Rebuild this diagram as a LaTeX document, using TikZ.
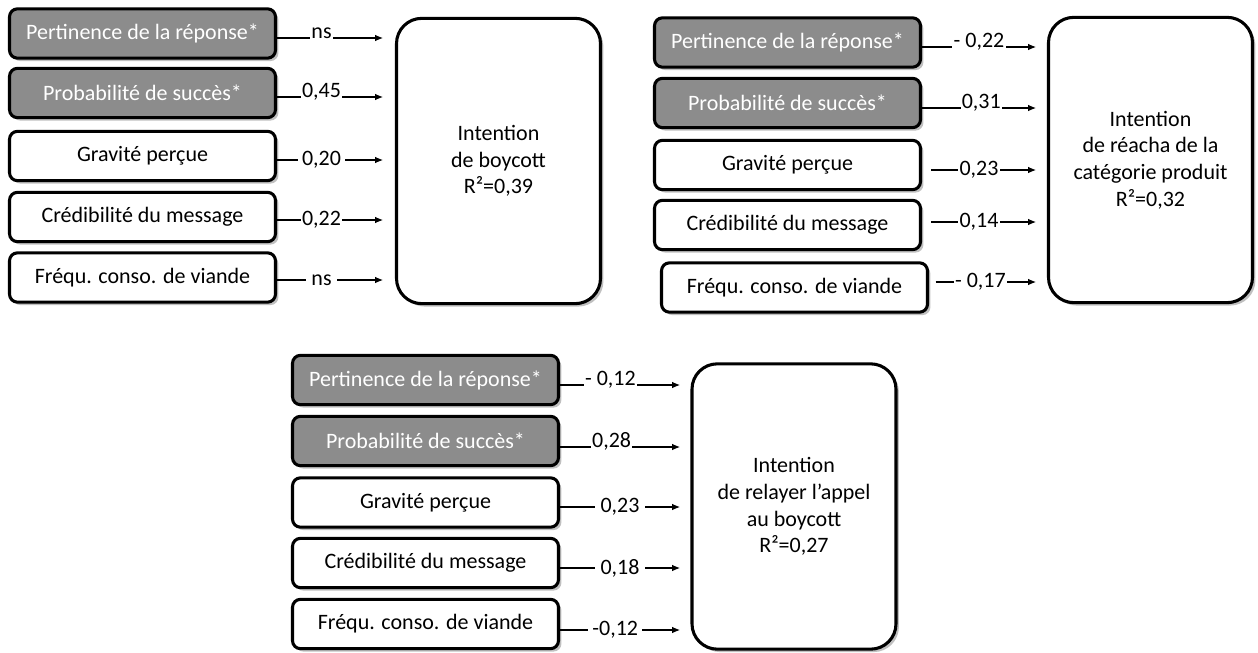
\documentclass[tikz,border=0pt]{standalone}
\usepackage{fontspec}
\setmainfont{Carlito}
\usepackage{tikz}
\usetikzlibrary{arrows.meta,shadows}
\definecolor{boxgray}{RGB}{140,140,140}
\definecolor{shadowgray}{RGB}{130,130,130}

\begin{document}
\begin{tikzpicture}
[x=0.75pt,y=-0.75pt,font=\fontsize{16.5pt}{20pt}\selectfont]
\tikzset{
	factor/.style = {rectangle, draw, rounded corners=6pt, line width=2.3pt, fill=white, minimum width=199.5pt, minimum height=37pt, inner sep=0, drop shadow={shadow xshift=2.2pt, shadow yshift=-2.2pt, fill=shadowgray}},
	factorgray/.style = {factor, fill=boxgray, text=white},
	outcome/.style = {rectangle, draw, rounded corners=19pt, line width=2.3pt, fill=white, minimum width=153pt, minimum height=214pt, align=center, drop shadow={shadow xshift=2.2pt, shadow yshift=-2.2pt, fill=shadowgray}},
	effect/.style = {line width=0.8pt, -{Latex[length=6pt,width=5pt]}},
	coef/.style = {fill=white, inner xsep=1pt, inner ysep=1pt},
	coefup/.style = {fill=white, anchor=base, inner xsep=1pt, inner ysep=1pt}
}
\useasboundingbox (0,0) rectangle (1258,653);

\node(b11) [factorgray] at (142.5,33.5) {Pertinence de la réponse*};
\node(b12) [factorgray] at (142.5,93) {Probabilité de succès*};
\node(b13) [factor] at (142.5,156) {Gravité perçue};
\node(b14) [factor] at (142.5,217) {Crédibilité du message};
\node(b15) [factor] at (142.5,277.5) {Fréqu. conso. de viande};
\node(y1) [outcome] at (498.5,161) {Intention\\de boycott\\R²=0,39};

\coordinate (e11) at (383,38);
\coordinate (e12) at (383,97);
\coordinate (e13) at (383,160);
\coordinate (e14) at (383,220);
\coordinate (e15) at (383,280);
\draw[effect] (b11.east |- e11) -- node[coefup, pos=0.42]{ns} (e11);
\draw[effect] (b12.east |- e12) -- node[coefup, pos=0.42]{0,45} (e12);
\draw[effect] (b13.east |- e13) -- node[coef, pos=0.42, inner xsep=3pt]{0,20} (e13);
\draw[effect] (b14.east |- e14) -- node[coef, pos=0.42]{0,22} (e14);
\draw[effect] (b15.east |- e15) -- node[coef, pos=0.42, inner xsep=4pt]{ns} (e15);

\node(b21) [factorgray] at (787.5,42.5) {Pertinence de la réponse*};
\node(b22) [factorgray] at (787.5,103) {Probabilité de succès*};
\node(b23) [factor] at (787.5,165) {Gravité perçue};
\node(b24) [factor] at (787.5,225) {Crédibilité du message};
\node(b25) [factor] at (794.5,287.5) {Fréqu. conso. de viande};
\node(y2) [outcome] at (1150.5,160) {Intention\\de réacha de la\\catégorie produit\\R²=0,32};

\coordinate (e21) at (1036,47);
\coordinate (e22) at (1036,108);
\coordinate (e23) at (1036,170);
\coordinate (e24) at (1036,222);
\coordinate (e25) at (1036,282);
\draw[effect] (b21.east |- e21) -- node[coefup, pos=0.5]{- 0,22} (e21);
\draw[effect] (b22.east |- e22) -- node[coefup, pos=0.52]{0,31} (e22);
\draw[effect, shorten <=7pt] (b23.east |- e23) -- node[coef, pos=0.5]{0,23} (e23);
\draw[effect, shorten <=7pt] (b24.east |- e24) -- node[coef, pos=0.5]{0,14} (e24);
\draw[effect, shorten <=5pt] (b25.east |- e25) -- node[coef, pos=0.48]{- 0,17} (e25);

\node(b31) [factorgray] at (425.5,380) {Pertinence de la réponse*};
\node(b32) [factorgray] at (425.5,441) {Probabilité de succès*};
\node(b33) [factor] at (425.5,502.5) {Gravité perçue};
\node(b34) [factor] at (425.5,563) {Crédibilité du message};
\node(b35) [factor] at (425.5,624) {Fréqu. conso. de viande};
\node(y3) [outcome] at (794,506.5) {Intention\\de relayer l’appel\\au boycott\\R²=0,27};

\coordinate (e31) at (680,385);
\coordinate (e32) at (680,447);
\coordinate (e33) at (680,507);
\coordinate (e34) at (680,568);
\coordinate (e35) at (680,630);
\draw[effect] (b31.east |- e31) -- node[coefup, pos=0.42]{- 0,12} (e31);
\draw[effect] (b32.east |- e32) -- node[coefup, pos=0.43]{0,28} (e32);
\draw[effect] (b33.east |- e33) -- node[coef, pos=0.5, inner xsep=4pt]{0,23} (e33);
\draw[effect] (b34.east |- e34) -- node[coef, pos=0.5, inner xsep=4pt]{0,18} (e34);
\draw[effect] (b35.east |- e35) -- node[coef, pos=0.46, inner xsep=3pt]{-0,12} (e35);

\end{tikzpicture}
\end{document}
